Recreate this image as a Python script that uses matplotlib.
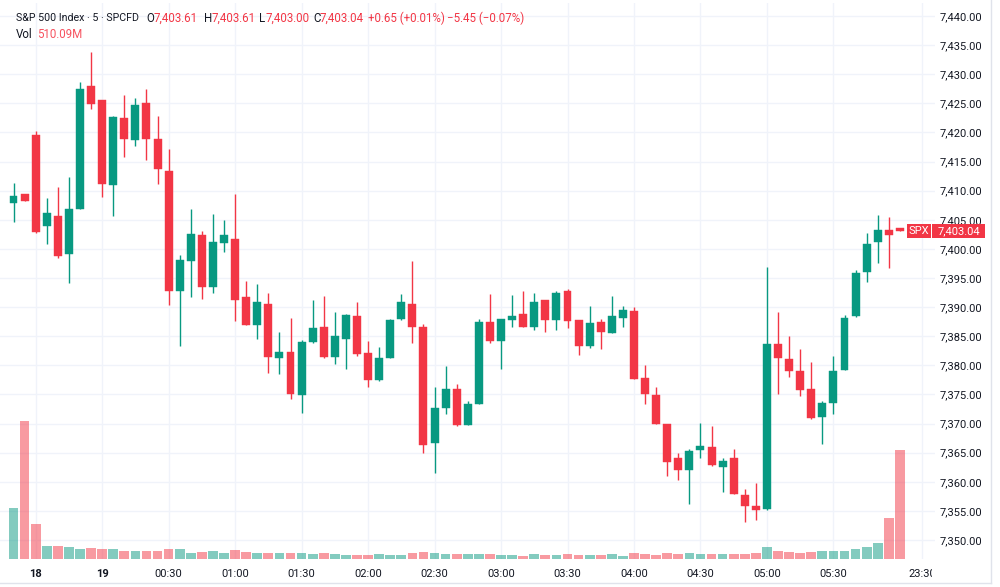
import matplotlib
matplotlib.use("Agg")
import matplotlib.pyplot as plt
import matplotlib.transforms as mtransforms
from matplotlib.patches import Rectangle
import numpy as np

# ---------------- data ----------------
opens = [7407.9, 7409.4, 7419.6, 7403.9, 7405.7, 7399.1, 7406.9, 7428.0, 7425.5, 7411.0,
         7422.4, 7418.7, 7425.0, 7418.9, 7413.4, 7392.8, 7398.0, 7402.3, 7393.4, 7401.0,
         7401.7, 7391.7, 7387.0, 7390.6, 7381.2, 7382.3, 7374.9, 7384.0, 7386.6, 7381.4,
         7384.6, 7388.5, 7382.2, 7377.5, 7381.3, 7388.0, 7390.6, 7386.5, 7366.6, 7372.6,
         7376.0, 7369.7, 7373.4, 7387.4, 7384.2, 7387.7, 7388.8, 7386.5, 7391.2, 7387.7,
         7392.7, 7387.7, 7383.4, 7387.4, 7385.6, 7388.2, 7389.4, 7377.8, 7374.9, 7370.0,
         7364.0, 7362.1, 7365.5, 7366.0, 7362.6, 7364.0, 7357.8, 7355.8, 7355.3, 7383.7,
         7381.1, 7379.1, 7376.0, 7371.2, 7373.6, 7379.2, 7388.4, 7396.0, 7401.2, 7403.2,
         7403.61]
highs = [7411.3, 7409.5, 7420.3, 7408.7, 7410.7, 7412.4, 7428.6, 7433.9, 7425.6, 7422.8,
         7426.5, 7425.9, 7427.5, 7422.8, 7417.1, 7398.9, 7406.8, 7403.1, 7406.0, 7405.0,
         7409.4, 7394.5, 7393.9, 7392.5, 7385.8, 7388.1, 7384.3, 7391.2, 7391.9, 7389.1,
         7388.9, 7390.8, 7384.1, 7383.1, 7387.9, 7392.3, 7397.9, 7387.1, 7376.3, 7379.8,
         7376.8, 7373.8, 7387.9, 7392.3, 7388.0, 7392.1, 7392.8, 7392.5, 7391.3, 7392.8,
         7393.1, 7387.8, 7390.2, 7387.9, 7391.9, 7390.2, 7390.1, 7380.0, 7376.3, 7370.0,
         7364.9, 7365.7, 7370.1, 7369.5, 7364.1, 7365.7, 7358.8, 7359.8, 7396.9, 7389.1,
         7385.0, 7382.8, 7380.6, 7373.8, 7381.6, 7388.6, 7396.3, 7402.8, 7405.8, 7405.5,
         7403.61]
lows = [7404.6, 7408.2, 7402.7, 7400.8, 7398.4, 7394.1, 7406.9, 7424.1, 7408.9, 7405.7,
        7415.7, 7417.7, 7415.3, 7411.1, 7390.4, 7383.4, 7391.7, 7391.4, 7392.5, 7399.5,
        7387.6, 7386.9, 7384.5, 7378.7, 7378.5, 7374.3, 7371.8, 7383.8, 7381.3, 7380.3,
        7379.3, 7381.6, 7376.3, 7377.3, 7381.3, 7387.7, 7383.8, 7364.9, 7361.5, 7371.6,
        7369.6, 7369.7, 7373.4, 7383.8, 7379.4, 7386.5, 7386.5, 7386.0, 7385.8, 7386.0,
        7386.4, 7381.7, 7382.9, 7382.8, 7385.5, 7386.5, 7377.7, 7373.3, 7370.0, 7361.0,
        7360.3, 7356.1, 7364.0, 7362.7, 7358.3, 7357.9, 7353.1, 7353.5, 7355.2, 7375.1,
        7378.0, 7374.8, 7370.8, 7366.4, 7371.6, 7379.2, 7388.3, 7394.3, 7397.5, 7396.7,
        7403.00]
closes = [7409.1, 7408.3, 7402.9, 7406.1, 7398.7, 7406.8, 7427.5, 7424.8, 7411.2, 7422.7,
          7418.8, 7424.7, 7418.9, 7413.7, 7392.8, 7398.1, 7402.5, 7393.4, 7401.1, 7402.3,
          7391.2, 7387.0, 7390.8, 7381.5, 7382.3, 7375.0, 7384.0, 7386.4, 7381.4, 7385.1,
          7388.7, 7381.9, 7377.4, 7381.2, 7387.8, 7390.9, 7386.5, 7366.3, 7372.7, 7375.9,
          7369.7, 7373.3, 7387.5, 7384.1, 7387.9, 7388.5, 7386.6, 7390.9, 7387.8, 7392.5,
          7387.6, 7383.3, 7387.3, 7385.8, 7388.4, 7389.5, 7377.7, 7375.0, 7370.0, 7363.4,
          7362.1, 7365.3, 7366.2, 7362.8, 7363.6, 7357.9, 7355.9, 7355.1, 7383.6, 7381.3,
          7379.0, 7375.8, 7370.9, 7373.5, 7379.1, 7388.2, 7395.8, 7400.8, 7403.2, 7402.3,
          7403.04]
volumes_m = [239, 649, 164, 64, 61, 58, 50, 54, 47, 50,
             40, 40, 37, 37, 47, 47, 31, 34, 39, 31,
             42, 34, 31, 28, 28, 28, 28, 25, 28, 25,
             22, 22, 22, 25, 22, 22, 28, 34, 28, 25,
             25, 25, 25, 25, 22, 22, 17, 25, 22, 22,
             25, 22, 22, 22, 25, 17, 28, 25, 22, 28,
             25, 28, 25, 25, 25, 25, 25, 31, 56, 37,
             34, 31, 34, 37, 41, 41, 47, 56, 78, 192,
             510.09]

time_tick_pos = [2, 8, 14, 20, 26, 32, 38, 44, 50, 56, 62, 68, 74, 82]
time_tick_labels = ["18", "19", "00:30", "01:00", "01:30", "02:00", "02:30", "03:00",
                    "03:30", "04:00", "04:30", "05:00", "05:30", "23:30"]
price_ticks = list(range(7350, 7445, 5))

symbol_title = "S&P 500 Index · 5 · SPCFD"
symbol_short = "SPX"
prev_close = 7408.49

# ---------------- style ----------------
UP = "#089981"
DN = "#F23645"
TXT = "#131722"
GRID = "#F0F3FA"
FONT = ["Roboto", "DejaVu Sans"]
plt.rcParams['font.family'] = FONT

W, H = 1000, 587
fig = plt.figure(figsize=(W / 100, H / 100), dpi=100)
fig.patch.set_facecolor("white")

ax_l, ax_r = 0.0, 935.0
ax_top, ax_bot = 3.0, 559.3
ax = fig.add_axes([ax_l / W, (H - ax_bot) / H, (ax_r - ax_l) / W, (ax_bot - ax_top) / H])
ax2 = ax.twinx()

n = len(opens)
x = np.arange(n)
o = np.array(opens); c = np.array(closes); hi = np.array(highs); lo = np.array(lows)
up = c >= o
cols = np.where(up, UP, DN)

# wicks
ax.vlines(x, lo, hi, colors=cols, linewidth=1.0, zorder=3)
# bodies
body_lo = np.minimum(o, c)
body_h = np.maximum(np.abs(c - o), 0.12)
ax.bar(x, body_h, bottom=body_lo, width=0.72, color=cols, edgecolor=cols, linewidth=0.3, zorder=4)

# pixel->data mapping
px_per_bar = 11.08
x0_px = 13.5
ax.set_xlim((ax_l - x0_px) / px_per_bar, (ax_r - x0_px) / px_per_bar)
ppp = 5.822  # pixels per price point
ax.set_ylim(7440 - (ax_bot - 16) / ppp, 7440 + (16 - ax_top) / ppp)

# volume
vol_cols = np.where(up, UP, DN)
ax2.bar(x, volumes_m, width=0.88, color=vol_cols, alpha=0.5, linewidth=0, zorder=2)
ax2.set_ylim(0, (ax_bot - ax_top) * 4.68)
ax2.set_yticks([])
ax2.patch.set_visible(False)
for s in ax2.spines.values():
    s.set_visible(False)

# grid
ax.set_yticks(price_ticks)
ax.set_xticks(time_tick_pos)
ax.grid(True, color=GRID, linewidth=1.0, zorder=0)
ax.set_axisbelow(True)
for s in ax.spines.values():
    s.set_visible(False)

ax.yaxis.tick_right()
ax.set_yticklabels([f"{v:,.2f}" for v in price_ticks])
ax.tick_params(axis='y', length=0, pad=3, labelsize=8, labelcolor=TXT)
ax.set_xticklabels(time_tick_labels)
ax.tick_params(axis='x', length=0, pad=7, labelsize=8, labelcolor=TXT)
clipbox = mtransforms.Bbox.from_extents(0, 0, 932, H)
for lbl in ax.get_xticklabels():
    lbl.set_clip_box(clipbox)
    lbl.set_clip_on(True)
    if lbl.get_text() in ("18", "19"):
        lbl.set_fontweight("bold")

# outer frame lines
fig.add_artist(plt.Line2D([991 / W, 991 / W], [(H - 583) / H, 1], transform=fig.transFigure,
                          color="#E0E3EB", linewidth=1))
fig.add_artist(plt.Line2D([0, 991 / W], [(H - 583) / H, (H - 583) / H], transform=fig.transFigure,
                          color="#E0E3EB", linewidth=1))

# last price label
last = closes[-1]
btr = mtransforms.blended_transform_factory(fig.transFigure, ax.transData)
bh = 14 / ppp
fig.add_artist(Rectangle((907 / W, last - bh / 2), 24 / W, bh, transform=btr,
                         facecolor=DN, edgecolor="none", clip_on=False))
fig.add_artist(Rectangle((932 / W, last - bh / 2), 53 / W, bh, transform=btr,
                         facecolor=DN, edgecolor="none", clip_on=False))
fig.text(919 / W, last, symbol_short, transform=btr, color="white", fontsize=8,
         ha="center", va="center")
fig.text(958.5 / W, last, f"{last:,.2f}", transform=btr, color="white", fontsize=8,
         ha="center", va="center")

# header
def ftxt(px, py, s, color, size=8.3, **kw):
    fig.text(px / W, 1 - py / H, s, color=color, fontsize=size, ha="left", va="center", **kw)

ftxt(16, 18, symbol_title, TXT, size=7.7)
ftxt(146.7, 18, "O", TXT); ftxt(154, 18, f"{opens[-1]:,.2f}", DN)
ftxt(204, 18, "H", TXT); ftxt(212, 18, f"{highs[-1]:,.2f}", DN)
ftxt(259.3, 18, "L", TXT); ftxt(265.5, 18, f"{lows[-1]:,.2f}", DN)
ftxt(313.3, 18, "C", TXT); ftxt(319.5, 18, f"{closes[-1]:,.2f}", DN)
ftxt(368, 18, "+0.65 (+0.01%)", DN)
ftxt(446.7, 18, "\u22125.45 (\u22120.07%)", DN)
ftxt(16, 34, "Vol", TXT)
ftxt(36.7, 34, f"{volumes_m[-1]:.2f}M", "#F7525F")

fig.savefig("out.png", dpi=100, facecolor="white")
